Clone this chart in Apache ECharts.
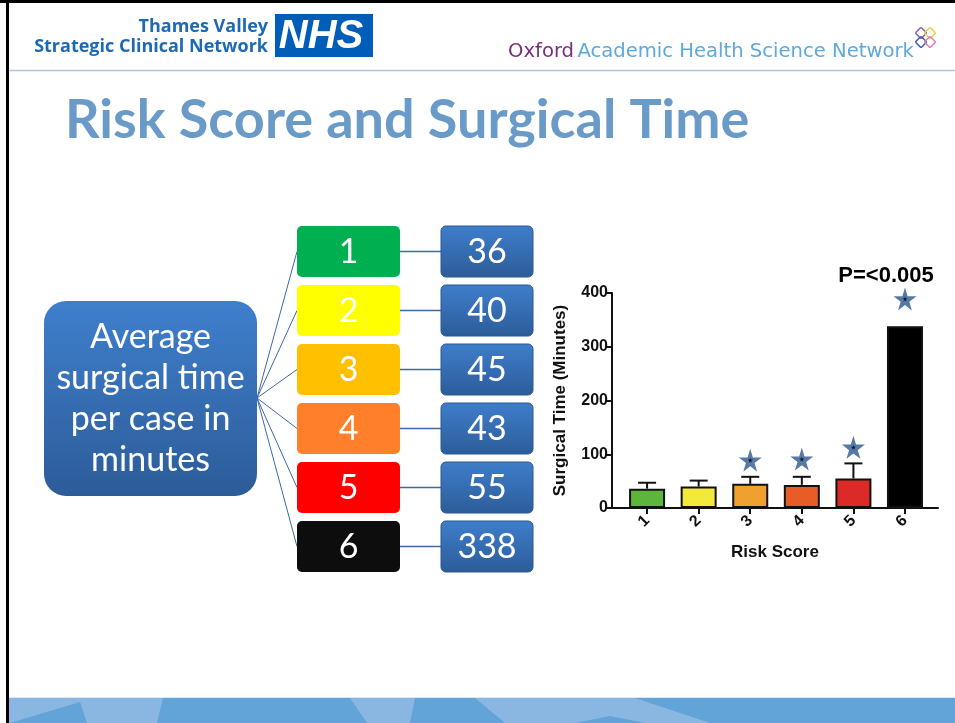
<!DOCTYPE html>
<html>
<head>
<meta charset="utf-8">
<title>Risk Score and Surgical Time</title>
<script src="https://cdn.jsdelivr.net/npm/echarts@6/dist/echarts.min.js"></script>
<style>
    html, body { margin: 0; padding: 0; background: #fff; }
    #main { width: 955px; height: 723px; }
</style>
</head>
<body>
<div id="main"></div>
<script>
// risk score categories and average surgical time (minutes)
var riskScores = ['1', '2', '3', '4', '5', '6'];
var meanMinutes = [36, 40, 45, 43, 55, 338];
// top of the error whiskers, score 6 has none
var whiskerTop = [47, 51, 58, 58, 83, null];
// significance stars
var starScores = [3, 4, 5, 6];
var starHeights = [89, 91, 113, 389];
var xTicks = [1, 2, 3, 4, 5, 6];
var scoreColors = ['#00b050', '#ffff00', '#ffc000', '#ff7f2a', '#ff0000', '#0d0d0d'];
var barColors = ['#5cb63c', '#f2e93a', '#f0a02e', '#e85d26', '#dc2a26', '#000000'];

var chartFont = 'Liberation Sans, Arial, sans-serif';
var slideFont = 'Lato, Open Sans, sans-serif';
var starPath = 'path://M50,0 L61,35 L98,35 L68,57 L79,91 L50,70 L21,91 L32,57 L2,35 L39,35 Z';
var hub = [257, 398];

function blueFill(top, bottom) {
    return {
        type: 'linear', x: 0, y: 0, x2: 0, y2: 1,
        colorStops: [{ offset: 0, color: top }, { offset: 1, color: bottom }]
    };
}

// one row of the diagram: score box, connector, value box
function renderRow(params, api) {
    var idx = api.value(1);
    var left = api.coord([0, idx])[0];
    var right = api.coord([1, idx])[0];
    var cy = api.coord([0, idx])[1];
    var h = 51, wScore = 103, wVal = 92;
    return {
        type: 'group',
        children: [
            { type: 'line', shape: { x1: hub[0], y1: hub[1], x2: left, y2: cy }, style: { stroke: '#3d69a5', lineWidth: 1 } },
            { type: 'line', shape: { x1: left + wScore, y1: cy, x2: right - wVal, y2: cy }, style: { stroke: '#3d69a5', lineWidth: 1.5 } },
            { type: 'rect', shape: { x: left, y: cy - h / 2, width: wScore, height: h, r: 5 }, style: { fill: scoreColors[idx] } },
            { type: 'text', style: { text: riskScores[idx], x: left + wScore / 2, y: cy + 1, align: 'center', verticalAlign: 'middle', fill: '#fff', font: '34px ' + slideFont } },
            { type: 'rect', shape: { x: right - wVal, y: cy - h / 2, width: wVal, height: h, r: 5 }, style: { fill: blueFill('#3f7ecb', '#2c5c99'), stroke: '#2a5890', lineWidth: 1 } },
            { type: 'text', style: { text: String(api.value(2)), x: right - wVal / 2, y: cy + 1, align: 'center', verticalAlign: 'middle', fill: '#fff', font: '34px ' + slideFont } }
        ]
    };
}

function renderWhisker(params, api) {
    var base = api.coord([api.value(0), api.value(1)]);
    var top = api.coord([api.value(0), api.value(2)]);
    return {
        type: 'group',
        children: [
            { type: 'line', shape: { x1: base[0], y1: base[1], x2: top[0], y2: top[1] }, style: { stroke: '#111', lineWidth: 2 } },
            { type: 'line', shape: { x1: top[0] - 9, y1: top[1], x2: top[0] + 9, y2: top[1] }, style: { stroke: '#111', lineWidth: 2 } }
        ]
    };
}

var rowData = riskScores.map(function (s, i) { return [0, i, meanMinutes[i]]; });
var barData = xTicks.map(function (x, i) { return [x, meanMinutes[i]]; });
var whiskerData = [];
xTicks.forEach(function (x, i) {
    if (whiskerTop[i] != null) whiskerData.push([x, meanMinutes[i], whiskerTop[i]]);
});
var starData = starScores.map(function (s, i) { return [s, starHeights[i]]; });

var option = {
    animation: false,
    backgroundColor: '#fff',
    grid: [
        { left: 612, right: 17, top: 293, bottom: 215 },
        { left: 297, right: 422, top: 222, height: 354 }
    ],
    xAxis: [
        {
            type: 'value', gridIndex: 0, min: 0.32, max: 6.64,
            axisLine: { show: true, onZero: false, lineStyle: { color: '#111', width: 2 } },
            axisTick: { show: true, length: 6, lineStyle: { color: '#111', width: 2 }, customValues: xTicks },
            axisLabel: { customValues: xTicks, rotate: 45, margin: 10, color: '#111', fontWeight: 'bold', fontSize: 16, fontFamily: chartFont },
            splitLine: { show: false },
            name: 'Risk Score', nameLocation: 'middle', nameGap: 36,
            nameTextStyle: { color: '#111', fontWeight: 'bold', fontSize: 17, fontFamily: chartFont }
        },
        { type: 'value', gridIndex: 1, min: 0, max: 1, show: false }
    ],
    yAxis: [
        {
            type: 'value', gridIndex: 0, min: 0, max: 400, interval: 100,
            axisLine: { show: true, onZero: false, lineStyle: { color: '#111', width: 2 } },
            axisTick: { show: true, length: 5, lineStyle: { color: '#111', width: 2 } },
            axisLabel: { margin: 4, color: '#111', fontWeight: 'bold', fontSize: 16, fontFamily: chartFont },
            splitLine: { show: false },
            name: 'Surgical Time (Minutes)', nameLocation: 'middle', nameGap: 43,
            nameTextStyle: { color: '#111', fontWeight: 'bold', fontSize: 17, fontFamily: chartFont }
        },
        { type: 'category', gridIndex: 1, data: riskScores, inverse: true, show: false }
    ],
    series: [
        {
            type: 'custom', xAxisIndex: 1, yAxisIndex: 1,
            renderItem: renderRow, data: rowData, clip: false, silent: true
        },
        {
            type: 'custom', xAxisIndex: 0, yAxisIndex: 0, z: 1,
            renderItem: renderWhisker, data: whiskerData, silent: true
        },
        {
            type: 'bar', xAxisIndex: 0, yAxisIndex: 0, z: 3,
            barWidth: 36, data: barData,
            itemStyle: {
                color: function (p) { return barColors[p.dataIndex]; },
                borderColor: '#111', borderWidth: 2
            }
        },
        {
            type: 'scatter', xAxisIndex: 0, yAxisIndex: 0, z: 4,
            symbol: starPath, symbolSize: 23, data: starData, clip: false,
            itemStyle: { color: '#2c5890' }
        },
        {
            type: 'scatter', xAxisIndex: 0, yAxisIndex: 0, z: 5,
            symbol: starPath, symbolSize: 5, data: starData, clip: false,
            itemStyle: { color: '#000' }
        }
    ],
    graphic: [
        // slide frame
        { type: 'rect', shape: { x: 0, y: 0, width: 955, height: 3 }, style: { fill: '#000' } },
        { type: 'rect', shape: { x: 6, y: 0, width: 3, height: 723 }, style: { fill: '#000' } },
        // header left
        { type: 'text', style: { text: 'Thames Valley', x: 268, y: 27, align: 'right', verticalAlign: 'middle', fill: '#1d6ab4', font: 'bold 18px Open Sans, sans-serif' } },
        { type: 'text', style: { text: 'Strategic Clinical Network', x: 268, y: 47, align: 'right', verticalAlign: 'middle', fill: '#1d6ab4', font: 'bold 18px Open Sans, sans-serif' } },
        { type: 'rect', shape: { x: 275, y: 14, width: 98, height: 43 }, style: { fill: '#005eb8' } },
        { type: 'text', style: { text: 'NHS', x: 321, y: 37, align: 'center', verticalAlign: 'middle', fill: '#fff', font: 'italic bold 40px Liberation Sans, Arial, sans-serif' } },
        // header right
        {
            type: 'text',
            style: {
                text: '{a|Oxford} {b|Academic Health Science Network}', x: 508, y: 52, verticalAlign: 'middle',
                rich: {
                    a: { fill: '#77307f', font: '19.6px DejaVu Sans, sans-serif' },
                    b: { fill: '#5ea9dc', font: '19.6px DejaVu Sans, sans-serif' }
                }
            }
        },
        { type: 'rect', rotation: Math.PI / 4, x: 921, y: 33, shape: { x: -4, y: -4, width: 8, height: 8, r: 1 }, style: { fill: 'none', stroke: '#8a5fb0', lineWidth: 1.5 } },
        { type: 'rect', rotation: Math.PI / 4, x: 930, y: 33, shape: { x: -4, y: -4, width: 8, height: 8, r: 1 }, style: { fill: 'none', stroke: '#e3d34a', lineWidth: 1.5 } },
        { type: 'rect', rotation: Math.PI / 4, x: 921, y: 42, shape: { x: -4, y: -4, width: 8, height: 8, r: 1 }, style: { fill: 'none', stroke: '#3b5fb0', lineWidth: 1.5 } },
        { type: 'rect', rotation: Math.PI / 4, x: 930, y: 42, shape: { x: -4, y: -4, width: 8, height: 8, r: 1 }, style: { fill: 'none', stroke: '#d77fb8', lineWidth: 1.5 } },
        { type: 'line', shape: { x1: 9, y1: 70.5, x2: 955, y2: 70.5 }, style: { stroke: '#a9c7e1', lineWidth: 1.5 } },
        // title
        { type: 'text', style: { text: 'Risk Score and Surgical Time', x: 65, y: 121, verticalAlign: 'middle', fill: '#6a9bc8', font: 'bold 54px ' + slideFont } },
        // hub box
        { type: 'rect', shape: { x: 44, y: 301, width: 213, height: 195, r: 22 }, style: { fill: blueFill('#3f7fcd', '#2c5c98') } },
        { type: 'text', style: { text: 'Average\nsurgical time\nper case in\nminutes', x: 150.5, y: 399, align: 'center', verticalAlign: 'middle', lineHeight: 41, fill: '#fff', font: '34px ' + slideFont } },
        // significance note
        { type: 'text', style: { text: 'P=<0.005', x: 886, y: 276, align: 'center', verticalAlign: 'middle', fill: '#000', font: 'bold 22px ' + chartFont } },
        // footer band
        { type: 'rect', shape: { x: 9, y: 698, width: 946, height: 25 }, style: { fill: '#62a3d8' } },
        { type: 'polygon', shape: { points: [[9, 698], [163, 698], [157, 723], [9, 723]] }, style: { fill: '#8ab7e1' } },
        { type: 'polygon', shape: { points: [[10, 723], [80, 702], [87, 723]] }, style: { fill: '#62a3d8' } },
        { type: 'polygon', shape: { points: [[350, 698], [415, 698], [410, 723], [367, 723]] }, style: { fill: '#8ab7e1' } },
        { type: 'polygon', shape: { points: [[475, 698], [635, 698], [710, 723], [505, 723]] }, style: { fill: '#8ab7e1' } },
        { type: 'polygon', shape: { points: [[575, 723], [610, 716], [645, 723]] }, style: { fill: '#62a3d8' } },
        { type: 'line', shape: { x1: 9, y1: 697.5, x2: 955, y2: 697.5 }, style: { stroke: '#d7e7f5', lineWidth: 1 } }
    ]
};

echarts.init(document.getElementById('main')).setOption(option);
</script>
</body>
</html>
